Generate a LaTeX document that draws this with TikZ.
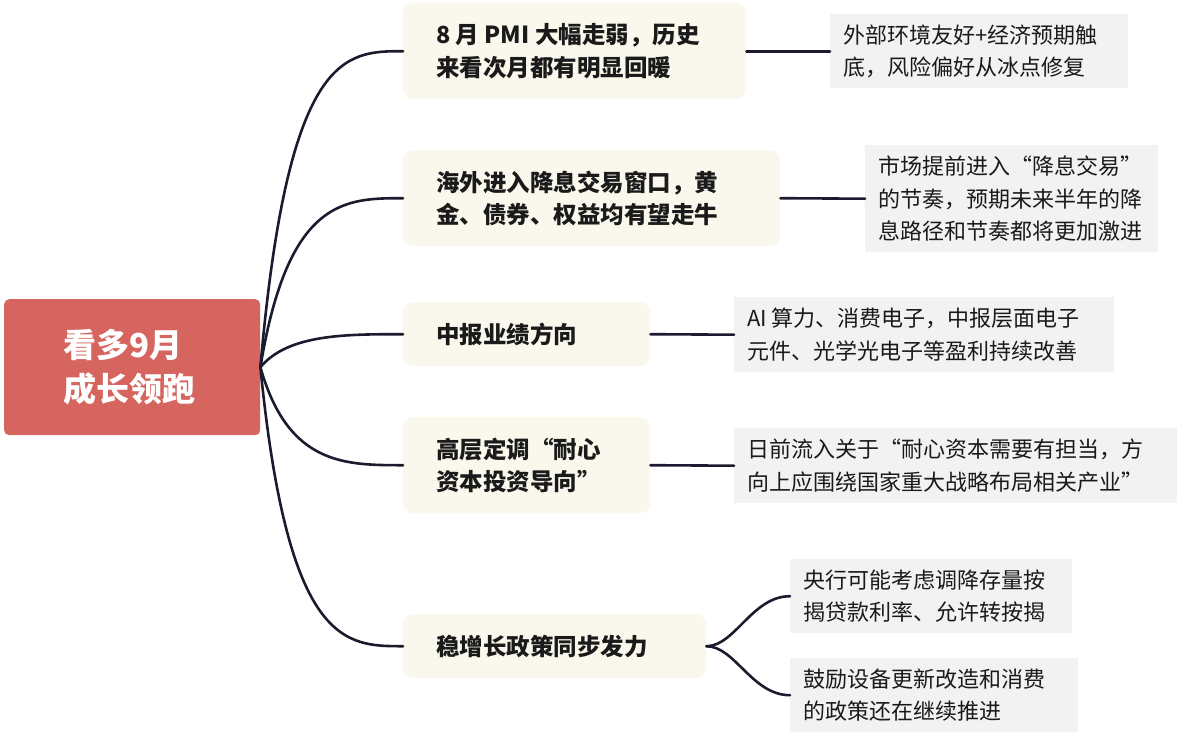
\documentclass[tikz,border=0pt]{standalone}
\usepackage{fontspec}
\setmainfont{Noto Sans CJK SC}
\usetikzlibrary{calc}
\definecolor{rootc}{HTML}{D5655E}
\definecolor{creamc}{HTML}{FAF8EC}
\definecolor{greyc}{HTML}{F2F2F2}
\definecolor{linec}{HTML}{1C1B2E}
\definecolor{textc}{HTML}{1A1A1A}
\tikzset{
  rootbox/.style={anchor=north west, fill=rootc, rounded corners=5pt, inner ysep=0pt, inner xsep=59pt,
     text=white, font=\fontsize{33}{44}\selectfont\bfseries, align=flush left},
  topicbox/.style={anchor=north west, fill=creamc, rounded corners=10pt, inner ysep=0pt, inner xsep=33pt,
     text=textc, font=\fontsize{23.5}{32.5}\selectfont\bfseries, align=flush left},
  notebox/.style={anchor=north west, fill=greyc, inner ysep=0pt, inner xsep=13pt,
     text=textc, font=\fontsize{22}{32.5}\selectfont, align=flush left},
  conn/.style={draw=linec, line width=2.6pt, line cap=round}
}
\begin{document}
\begin{tikzpicture}[x=1pt,y=-1pt]
\useasboundingbox (0,0) rectangle (1194,747);
% root
\node[rootbox, minimum width=256pt, minimum height=136pt, text width=138pt] (root) at (4,299) {看多9月\\成长领跑};
% topics
\node[topicbox, minimum width=343pt, minimum height=96pt, text width=277pt] (b1) at (403,3) {8 月 PMI 大幅走弱，历史\\来看次月都有明显回暖};
\node[topicbox, minimum width=377pt, minimum height=96pt, text width=311pt] (b2) at (403,150) {海外进入降息交易窗口，黄\\金、债券、权益均有望走牛};
\node[topicbox, minimum width=247pt, minimum height=64pt, text width=181pt] (b3) at (403,302) {中报业绩方向};
\node[topicbox, minimum width=247pt, minimum height=96pt, text width=181pt] (b4) at (403,417) {高层定调“耐心\\资本投资导向”};
\node[topicbox, minimum width=303pt, minimum height=64pt, text width=237pt] (b5) at (403,614) {稳增长政策同步发力};
% notes
\node[notebox, minimum width=298pt, minimum height=74pt, text width=272pt] (r1) at (830,14) {外部环境友好+经济预期触\\底，风险偏好从冰点修复};
\node[notebox, minimum width=293pt, minimum height=107pt, text width=267pt] (r2) at (865,145) {市场提前进入“降息交易”\\的节奏，预期未来半年的降\\息路径和节奏都将更加激进};
\node[notebox, minimum width=380pt, minimum height=75pt, text width=354pt] (r3) at (734,297) {AI 算力、消费电子，中报层面电子\\元件、光学光电子等盈利持续改善};
\node[notebox, minimum width=443pt, minimum height=75pt, text width=417pt] (r4) at (734,428) {日前流入关于“耐心资本需要有担当，方\\向上应围绕国家重大战略布局相关产业”};
\node[notebox, minimum width=282pt, minimum height=74pt, text width=256pt] (r5a) at (790,559) {央行可能考虑调降存量按\\揭贷款利率、允许转按揭};
\node[notebox, minimum width=288pt, minimum height=74pt, text width=262pt] (r5b) at (790,658) {鼓励设备更新改造和消费\\的政策还在继续推进};
% helper x positions for curve controls
\coordinate (k1) at (288,0);
\coordinate (k2) at (345,0);
\coordinate (k3) at (735,0);
\coordinate (k4) at (752,0);
% root connectors
\foreach \b in {b1,b2,b3,b4,b5}{
  \draw[conn] (root.east) .. controls (k1 |- \b.west) and (k2 |- \b.west) .. (\b.west);
}
% topic to note connectors
\draw[conn] (b1.east) -- (r1.west);
\draw[conn] (b2.east) -- (r2.west);
\draw[conn] (b3.east) -- (r3.west);
\draw[conn] (b4.east) -- (r4.west);
\draw[conn] (b5.east) .. controls (k3 |- b5.east) and (k4 |- r5a.west) .. (r5a.west);
\draw[conn] (b5.east) .. controls (k3 |- b5.east) and (k4 |- r5b.west) .. (r5b.west);
\end{tikzpicture}
\end{document}
